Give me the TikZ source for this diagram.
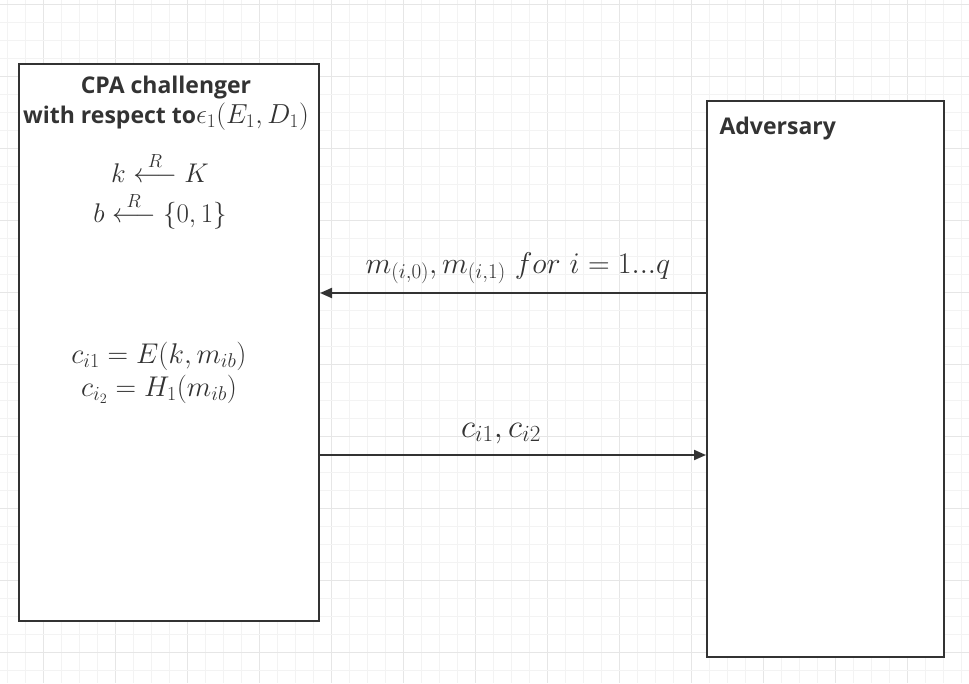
\RequirePackage{fix-cm}
\documentclass[tikz,border=0pt]{standalone}
\usepackage{amsmath}
\usepackage{fontspec}
\newfontfamily\titlefont{Open Sans}
\usetikzlibrary{arrows.meta}
\definecolor{ink}{HTML}{333333}
\definecolor{gridminor}{HTML}{F3F3F3}
\definecolor{gridmajor}{HTML}{E6E6E6}

\tikzset{
  party/.style={draw=ink, line width=2pt, fill=white, inner sep=0pt},
  heading/.style={font=\titlefont\bfseries\fontsize{23}{30}\selectfont, anchor=base},
  mathline/.style={font=\fontsize{27}{30}\selectfont, anchor=base},
  msglabel/.style={font=\fontsize{30}{34}\selectfont, anchor=base},
  flow/.style={->, draw=ink, line width=2pt}
}

\begin{document}
\begin{tikzpicture}[x=1pt, y=-1pt, >={Triangle[length=12pt, width=10pt]}, every node/.style={text=ink}]
\useasboundingbox (0,0) rectangle (969,683);
\fill[white] (0,0) rectangle (969,683);

% background grid
\foreach \k in {0,...,53} {
  \pgfmathsetmacro{\gx}{7.5+18*\k}
  \pgfmathtruncatemacro{\gr}{mod(\k+2,4)}
  \ifnum\gr=0
    \draw[gridmajor, line width=1pt] (\gx,0) -- (\gx,683);
  \else
    \draw[gridminor, line width=1pt] (\gx,0) -- (\gx,683);
  \fi
}
\foreach \k in {0,...,37} {
  \pgfmathsetmacro{\gy}{4+18*\k}
  \pgfmathtruncatemacro{\gr}{mod(\k,4)}
  \ifnum\gr=0
    \draw[gridmajor, line width=1pt] (0,\gy) -- (969,\gy);
  \else
    \draw[gridminor, line width=1pt] (0,\gy) -- (969,\gy);
  \fi
}

% the two parties
\node[party, minimum width=300.5, minimum height=556.5] (chal) at (168.75,342.25) {};
\node[party, minimum width=237, minimum height=556.5] (adv) at (825.5,378.75) {};

% challenger side
\node[heading] (title1) at (166,93) {CPA challenger};
\node[heading] (title2) at (166,123) {with respect to{\fontsize{27.5}{30}\selectfont$\epsilon_1(E_1,D_1)$}};
\node[mathline] (pickk) at (160,182) {$k\stackrel{R}{\longleftarrow}K$};
\node[mathline] (pickb) at (160,222) {$b\stackrel{R}{\longleftarrow}\{0,1\}$};
\node[mathline, font=\fontsize{28.5}{30}\selectfont] (enc1) at (159,363) {$c_{i1}=E(k,m_{ib})$};
\node[mathline, font=\fontsize{28.5}{30}\selectfont] (enc2) at (159,396) {$c_{i_2}=H_1(m_{ib})$};

% adversary side
\node[heading, anchor=base west] (advname) at (716,134) {Adversary};

% messages
\node[msglabel] (req) at (518,273) {$m_{(i,0)},m_{(i,1)}\ for\ i=1...q$};
\node[msglabel, font=\fontsize{33}{36}\selectfont] (resp) at (501,437) {$c_{i1},c_{i2}$};
\draw[flow] (adv.west |- 0,293) -- (chal.east |- 0,293);
\draw[flow] (chal.east |- 0,455) -- (adv.west |- 0,455);
\end{tikzpicture}
\end{document}
